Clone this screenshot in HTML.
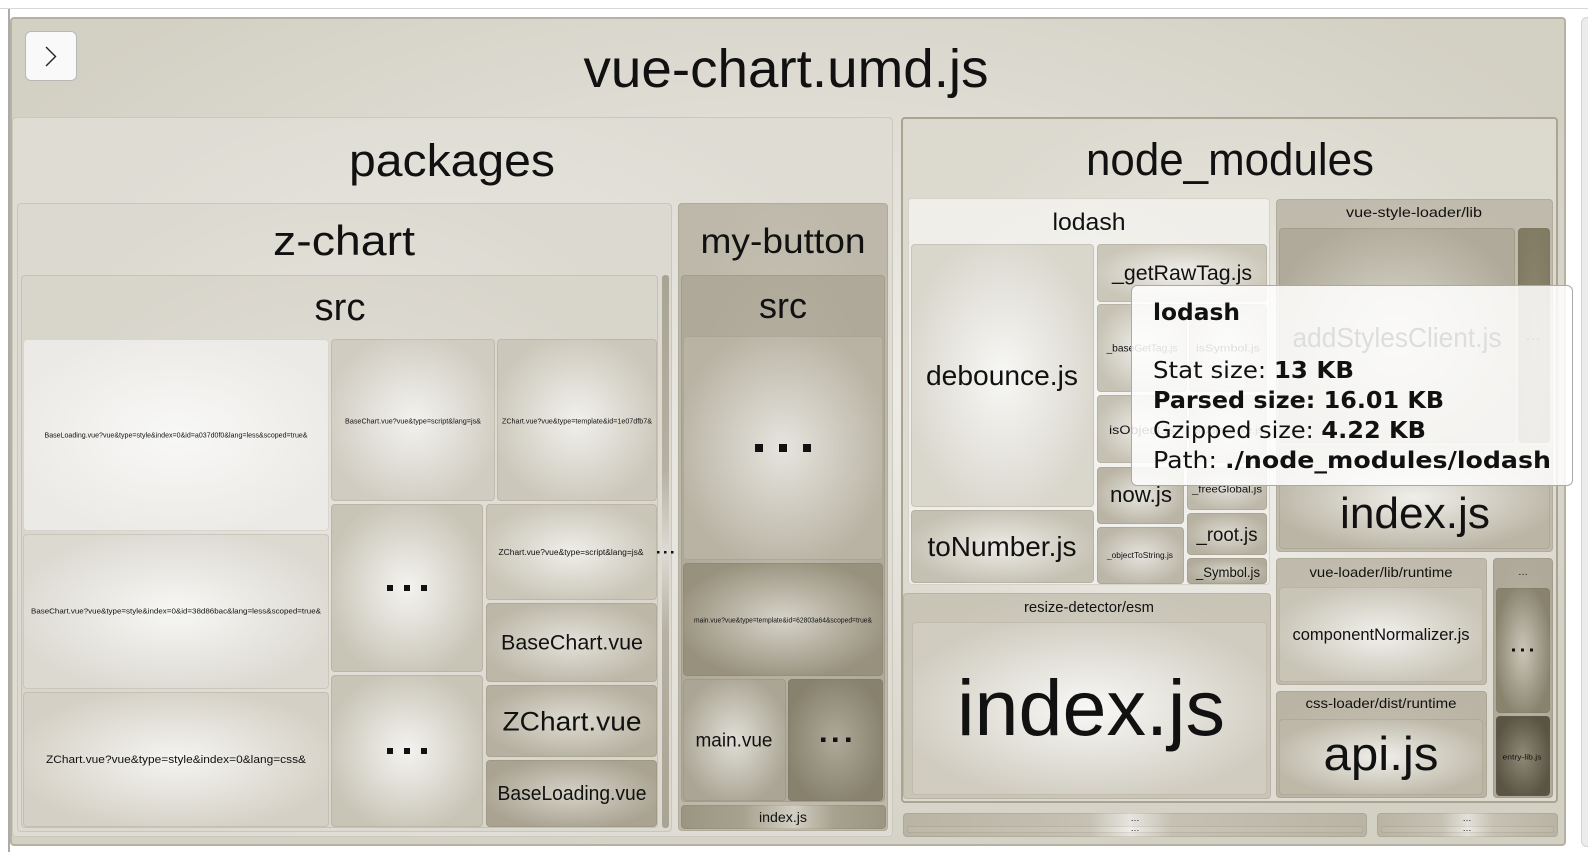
<!DOCTYPE html>
<html><head><meta charset="utf-8">
<style>
html,body{margin:0;padding:0;background:#fff;width:1588px;height:852px;overflow:hidden;position:relative}
.b{position:absolute;box-sizing:border-box;border-radius:4px;border:1px solid rgba(110,100,80,0.16)}
svg{position:absolute;left:0;top:0;overflow:visible}
.t text{font-family:"Liberation Sans",Arial,sans-serif;fill:#111}
.tt text{font-family:"DejaVu Sans","Liberation Sans",sans-serif;fill:#111}
</style></head><body>

<!-- page chrome -->
<div style="position:absolute;left:0;top:8px;width:1588px;height:1px;background:#d8d8d8"></div>
<div style="position:absolute;left:8px;top:9px;width:2px;height:843px;background:#ababab"></div>
<div style="position:absolute;left:1581px;top:17px;width:20px;height:830px;background:#ececec;border:1px solid #d2d2d2;border-radius:6px;box-sizing:border-box"></div>

<!-- root -->
<div class="b" style="left:10px;top:17px;width:1556px;height:829px;border:2px solid #b6b1a1;background:radial-gradient(ellipse 60% 60% at 50% 45%,#eeede8,#d3d0c4)"></div>

<!-- button -->
<div style="position:absolute;left:25px;top:31px;width:52px;height:50px;box-sizing:border-box;border:1.5px solid #b8b8b8;border-radius:6px;background:#f9f9f9"></div>

<!-- packages -->
<div class="b" style="left:12px;top:117px;width:881px;height:720px;background:radial-gradient(ellipse 55% 55% at 50% 50%,#eeede8,#dedcd3)"></div>
<div class="b" style="left:17px;top:203px;width:655px;height:629px;background:radial-gradient(ellipse 55% 55% at 50% 50%,#ebeae4,#dcd9d0)"></div>
<div class="b" style="left:21px;top:275px;width:637px;height:553px;background:radial-gradient(ellipse 55% 55% at 50% 50%,#e6e4de,#d8d5cb)"></div>
<div class="b" style="left:662px;top:275px;width:7px;height:553px;border:none;border-radius:3px;background:linear-gradient(to bottom,#a9a494 0%,#b5b0a1 35%,#dcdad3 50%,#b5b0a1 65%,#a9a494 100%)"></div>

<div class="b" style="left:23px;top:339px;width:306px;height:192px;background:radial-gradient(ellipse 55% 55% at 50% 50%,#f8f8f7,#eceae6)"></div>
<div class="b" style="left:23px;top:534px;width:306px;height:155px;background:radial-gradient(ellipse 55% 55% at 50% 50%,#f7f7f5,#dcd9d1)"></div>
<div class="b" style="left:23px;top:692px;width:306px;height:135px;background:radial-gradient(ellipse 55% 55% at 50% 50%,#f5f4f1,#d4d0c5)"></div>
<div class="b" style="left:331px;top:339px;width:164px;height:162px;background:radial-gradient(ellipse 55% 55% at 50% 50%,#f3f2ef,#d0ccc1)"></div>
<div class="b" style="left:497px;top:339px;width:160px;height:162px;background:radial-gradient(ellipse 55% 55% at 50% 50%,#f1f0ec,#cbc7ba)"></div>
<div class="b" style="left:331px;top:504px;width:152px;height:168px;background:radial-gradient(ellipse 55% 55% at 50% 50%,#f4f3f0,#c8c4b6)"></div>
<div class="b" style="left:331px;top:675px;width:152px;height:152px;background:radial-gradient(ellipse 55% 55% at 50% 50%,#f4f3f0,#c8c4b6)"></div>
<div class="b" style="left:486px;top:504px;width:171px;height:96px;background:radial-gradient(ellipse 55% 55% at 50% 50%,#efeee9,#c9c5b7)"></div>
<div class="b" style="left:486px;top:603px;width:171px;height:79px;background:radial-gradient(ellipse 55% 55% at 50% 50%,#e3e1da,#bcb7a7)"></div>
<div class="b" style="left:486px;top:685px;width:171px;height:72px;background:radial-gradient(ellipse 55% 55% at 50% 50%,#dedbd2,#b5b09f)"></div>
<div class="b" style="left:486px;top:760px;width:171px;height:67px;background:radial-gradient(ellipse 55% 55% at 50% 50%,#d5d2c7,#aaa392)"></div>

<!-- my-button -->
<div class="b" style="left:678px;top:203px;width:210px;height:628px;background:radial-gradient(ellipse 55% 55% at 50% 50%,#cdc9bc,#bdb8a9)"></div>
<div class="b" style="left:681px;top:275px;width:204px;height:527px;background:radial-gradient(ellipse 55% 55% at 50% 50%,#bab5a6,#aea999)"></div>
<div class="b" style="left:683px;top:336px;width:200px;height:224px;background:radial-gradient(ellipse 55% 55% at 50% 50%,#e6e4de,#b8b3a3)"></div>
<div class="b" style="left:683px;top:563px;width:200px;height:113px;background:radial-gradient(ellipse 55% 55% at 50% 50%,#d6d3c9,#98917d)"></div>
<div class="b" style="left:683px;top:679px;width:103px;height:122px;background:radial-gradient(ellipse 55% 55% at 50% 50%,#e0ded6,#aaa594)"></div>
<div class="b" style="left:788px;top:679px;width:95px;height:122px;background:radial-gradient(ellipse 55% 55% at 50% 50%,#aea999,#87816d)"></div>
<div class="b" style="left:681px;top:805px;width:205px;height:24px;background:linear-gradient(to right,#9b9581,#a7a28f 30%,#d2cec3 55%,#a7a28f 75%,#9b9581)"></div>

<!-- node_modules -->
<div class="b" style="left:901px;top:117px;width:657px;height:686px;border:2px solid #aaa493;background:radial-gradient(ellipse 55% 55% at 50% 50%,#efeee9,#dcd9cf)"></div>
<div class="b" style="left:908px;top:198px;width:362px;height:387px;border-color:#d6d3ca;background:radial-gradient(ellipse 55% 55% at 50% 50%,#f5f4f2,#efeee9)"></div>
<div class="b" style="left:911px;top:244px;width:183px;height:263px;background:radial-gradient(ellipse 55% 55% at 50% 50%,#f7f7f5,#d9d6cc)"></div>
<div class="b" style="left:911px;top:510px;width:183px;height:73px;background:radial-gradient(ellipse 55% 55% at 50% 50%,#edebe6,#c4c0b2)"></div>
<div class="b" style="left:1097px;top:244px;width:170px;height:58px;background:radial-gradient(ellipse 55% 55% at 50% 50%,#f1f0ec,#cac6b8)"></div>
<div class="b" style="left:1097px;top:304px;width:90px;height:88px;background:radial-gradient(ellipse 55% 55% at 50% 50%,#efeee9,#c6c2b4)"></div>
<div class="b" style="left:1189px;top:304px;width:78px;height:88px;background:radial-gradient(ellipse 55% 55% at 50% 50%,#eceae5,#c3bfb1)"></div>
<div class="b" style="left:1097px;top:395px;width:90px;height:68px;background:radial-gradient(ellipse 55% 55% at 50% 50%,#eceae5,#c4c0b2)"></div>
<div class="b" style="left:1189px;top:395px;width:78px;height:68px;background:radial-gradient(ellipse 55% 55% at 50% 50%,#e9e7e1,#c1bdaf)"></div>
<div class="b" style="left:1097px;top:467px;width:87px;height:57px;background:radial-gradient(ellipse 55% 55% at 50% 50%,#e7e5df,#b9b4a4)"></div>
<div class="b" style="left:1097px;top:527px;width:87px;height:57px;background:radial-gradient(ellipse 55% 55% at 50% 50%,#e5e3dd,#bbb6a7)"></div>
<div class="b" style="left:1187px;top:467px;width:80px;height:43px;background:radial-gradient(ellipse 55% 55% at 50% 50%,#e1dfd8,#bdb8a9)"></div>
<div class="b" style="left:1187px;top:513px;width:80px;height:42px;background:radial-gradient(ellipse 55% 55% at 50% 50%,#dddad1,#b6b1a1)"></div>
<div class="b" style="left:1187px;top:558px;width:80px;height:26px;background:radial-gradient(ellipse 55% 55% at 50% 50%,#d7d4ca,#b0ab9a)"></div>

<div class="b" style="left:1276px;top:199px;width:277px;height:353px;background:radial-gradient(ellipse 55% 55% at 50% 50%,#cdc9bc,#bfbaab)"></div>
<div class="b" style="left:1279px;top:228px;width:236px;height:215px;background:radial-gradient(ellipse 55% 55% at 50% 50%,#dbd8ce,#afaa99)"></div>
<div class="b" style="left:1518px;top:228px;width:32px;height:215px;background:radial-gradient(ellipse 55% 55% at 50% 50%,#8d8670,#827b64)"></div>
<div class="b" style="left:1279px;top:446px;width:271px;height:103px;background:radial-gradient(ellipse 55% 55% at 50% 50%,#efeee9,#bab5a5)"></div>

<div class="b" style="left:903px;top:593px;width:368px;height:206px;background:radial-gradient(ellipse 55% 55% at 50% 50%,#d3d0c5,#c8c4b6)"></div>
<div class="b" style="left:912px;top:622px;width:355px;height:173px;background:radial-gradient(ellipse 55% 55% at 50% 50%,#f8f8f6,#d0ccc0)"></div>

<div class="b" style="left:1276px;top:558px;width:211px;height:127px;background:radial-gradient(ellipse 55% 55% at 50% 50%,#c8c4b6,#bfbaab)"></div>
<div class="b" style="left:1279px;top:587px;width:204px;height:95px;background:radial-gradient(ellipse 55% 55% at 50% 50%,#f1f0ec,#c8c4b6)"></div>
<div class="b" style="left:1276px;top:691px;width:211px;height:107px;background:radial-gradient(ellipse 55% 55% at 50% 50%,#c3bfb0,#b9b4a4)"></div>
<div class="b" style="left:1279px;top:719px;width:204px;height:76px;background:radial-gradient(ellipse 55% 55% at 50% 50%,#efeee9,#bdb8a8)"></div>
<div class="b" style="left:1493px;top:558px;width:60px;height:240px;background:radial-gradient(ellipse 55% 55% at 50% 50%,#b8b3a3,#aea999)"></div>
<div class="b" style="left:1496px;top:588px;width:54px;height:125px;background:radial-gradient(ellipse 55% 55% at 50% 50%,#cac6b8,#89836e)"></div>
<div class="b" style="left:1496px;top:716px;width:54px;height:80px;background:radial-gradient(ellipse 55% 55% at 50% 50%,#8f8976,#595443)"></div>

<!-- bottom bars -->
<div class="b" style="left:903px;top:813px;width:464px;height:24px;background:linear-gradient(to right,#b9b4a4,#c5c1b3 40%,#e6e4de 49%,#c5c1b3 58%,#b9b4a4)"></div>
<div class="b" style="left:907px;top:826px;width:456px;height:7px;border-radius:2px;background:linear-gradient(to right,#bdb8a8,#c9c5b7 40%,#eeede8 49%,#c9c5b7 58%,#bdb8a8)"></div>
<div class="b" style="left:1377px;top:813px;width:181px;height:24px;background:linear-gradient(to right,#b9b4a4,#c5c1b3 35%,#e2e0d9 50%,#c5c1b3 65%,#b9b4a4)"></div>
<div class="b" style="left:1381px;top:826px;width:173px;height:7px;border-radius:2px;background:linear-gradient(to right,#bdb8a8,#c9c5b7 35%,#eae8e2 50%,#c9c5b7 65%,#bdb8a8)"></div>

<!-- labels -->
<svg class="t" width="1588" height="852" viewBox="0 0 1588 852">
<polyline points="46,47 55.5,56.5 46,66" fill="none" stroke="#222" stroke-width="1.4"/>
<g text-anchor="middle">
<text x="786" y="87" font-size="54" textLength="405" lengthAdjust="spacingAndGlyphs">vue-chart.umd.js</text>
<text x="452" y="176" font-size="45" textLength="206" lengthAdjust="spacingAndGlyphs">packages</text>
<text x="1230" y="175" font-size="45" textLength="288" lengthAdjust="spacingAndGlyphs">node_modules</text>
<text x="344" y="255" font-size="42" textLength="142" lengthAdjust="spacingAndGlyphs">z-chart</text>
<text x="783" y="253" font-size="35" textLength="165" lengthAdjust="spacingAndGlyphs">my-button</text>
<text x="340" y="320" font-size="38" textLength="51" lengthAdjust="spacingAndGlyphs">src</text>
<text x="783" y="318" font-size="36" textLength="48" lengthAdjust="spacingAndGlyphs">src</text>
<text x="176" y="437.5" font-size="7" textLength="263" lengthAdjust="spacingAndGlyphs">BaseLoading.vue?vue&amp;type=style&amp;index=0&amp;id=a037d0f0&amp;lang=less&amp;scoped=true&amp;</text>
<text x="176" y="613.5" font-size="7" textLength="290" lengthAdjust="spacingAndGlyphs">BaseChart.vue?vue&amp;type=style&amp;index=0&amp;id=38d86bac&amp;lang=less&amp;scoped=true&amp;</text>
<text x="176" y="763" font-size="11" textLength="260" lengthAdjust="spacingAndGlyphs">ZChart.vue?vue&amp;type=style&amp;index=0&amp;lang=css&amp;</text>
<text x="413" y="423.5" font-size="7" textLength="136" lengthAdjust="spacingAndGlyphs">BaseChart.vue?vue&amp;type=script&amp;lang=js&amp;</text>
<text x="577" y="423.5" font-size="7" textLength="150" lengthAdjust="spacingAndGlyphs">ZChart.vue?vue&amp;type=template&amp;id=1e07dfb7&amp;</text>
<text x="571" y="555" font-size="8" textLength="145" lengthAdjust="spacingAndGlyphs">ZChart.vue?vue&amp;type=script&amp;lang=js&amp;</text>
<text x="572" y="649.5" font-size="21" textLength="142" lengthAdjust="spacingAndGlyphs">BaseChart.vue</text>
<text x="572" y="730.5" font-size="27" textLength="139" lengthAdjust="spacingAndGlyphs">ZChart.vue</text>
<text x="572" y="800" font-size="20" textLength="149" lengthAdjust="spacingAndGlyphs">BaseLoading.vue</text>
<text x="783" y="622.5" font-size="7" textLength="178" lengthAdjust="spacingAndGlyphs">main.vue?vue&amp;type=template&amp;id=62803a64&amp;scoped=true&amp;</text>
<text x="734" y="746.5" font-size="19" textLength="77" lengthAdjust="spacingAndGlyphs">main.vue</text>
<text x="783" y="822" font-size="14" textLength="48" lengthAdjust="spacingAndGlyphs">index.js</text>
<text x="1089" y="230" font-size="24" textLength="73" lengthAdjust="spacingAndGlyphs">lodash</text>
<text x="1414" y="217" font-size="14" textLength="136" lengthAdjust="spacingAndGlyphs">vue-style-loader/lib</text>
<text x="1002" y="385" font-size="28" textLength="152" lengthAdjust="spacingAndGlyphs">debounce.js</text>
<text x="1002" y="556" font-size="28" textLength="149" lengthAdjust="spacingAndGlyphs">toNumber.js</text>
<text x="1182" y="280" font-size="21" textLength="140" lengthAdjust="spacingAndGlyphs">_getRawTag.js</text>
<text x="1142" y="351.5" font-size="10" textLength="71" lengthAdjust="spacingAndGlyphs">_baseGetTag.js</text>
<text x="1228" y="351.5" font-size="10" textLength="64" lengthAdjust="spacingAndGlyphs">isSymbol.js</text>
<text x="1142" y="434" font-size="12" textLength="66" lengthAdjust="spacingAndGlyphs">isObject.js</text>
<text x="1228" y="433.5" font-size="10" textLength="70" lengthAdjust="spacingAndGlyphs">isObjectLike.js</text>
<text x="1141" y="502" font-size="22" textLength="62" lengthAdjust="spacingAndGlyphs">now.js</text>
<text x="1227" y="492.5" font-size="10" textLength="70" lengthAdjust="spacingAndGlyphs">_freeGlobal.js</text>
<text x="1227" y="541" font-size="19" textLength="61" lengthAdjust="spacingAndGlyphs">_root.js</text>
<text x="1228" y="577" font-size="14" textLength="64" lengthAdjust="spacingAndGlyphs">_Symbol.js</text>
<text x="1140" y="558" font-size="8" textLength="66" lengthAdjust="spacingAndGlyphs">_objectToString.js</text>
<text x="1397" y="347" font-size="28" textLength="209" lengthAdjust="spacingAndGlyphs">addStylesClient.js</text>
<text x="1533" y="340" font-size="16">…</text>
<text x="1415" y="528" font-size="44" textLength="150" lengthAdjust="spacingAndGlyphs">index.js</text>
<text x="1089" y="612" font-size="15" textLength="130" lengthAdjust="spacingAndGlyphs">resize-detector/esm</text>
<text x="1091" y="735" font-size="79" textLength="268" lengthAdjust="spacingAndGlyphs">index.js</text>
<text x="1381" y="577" font-size="14" textLength="143" lengthAdjust="spacingAndGlyphs">vue-loader/lib/runtime</text>
<text x="1381" y="640" font-size="17" textLength="177" lengthAdjust="spacingAndGlyphs">componentNormalizer.js</text>
<text x="1381" y="708" font-size="14" textLength="151" lengthAdjust="spacingAndGlyphs">css-loader/dist/runtime</text>
<text x="1381" y="770" font-size="47" textLength="115" lengthAdjust="spacingAndGlyphs">api.js</text>
<text x="1523" y="575" font-size="10">…</text>
<text x="1522" y="759.5" font-size="7" textLength="39" lengthAdjust="spacingAndGlyphs">entry-lib.js</text>
<text x="1135" y="821" font-size="9">…</text>
<text x="1135" y="831" font-size="9">…</text>
<text x="1467" y="821" font-size="9">…</text>
<text x="1467" y="831" font-size="9">…</text>
</g>
<g fill="#111">
<rect x="387" y="585" width="6" height="6"/><rect x="404" y="585" width="6" height="6"/><rect x="421" y="585" width="6" height="6"/>
<rect x="387" y="748" width="6" height="6"/><rect x="404" y="748" width="6" height="6"/><rect x="421" y="748" width="6" height="6"/>
<rect x="755" y="444" width="8" height="8"/><rect x="779" y="444" width="8" height="8"/><rect x="803" y="444" width="8" height="8"/>
<rect x="821" y="737.5" width="4.5" height="4.5"/><rect x="833" y="737.5" width="4.5" height="4.5"/><rect x="846" y="737.5" width="4.5" height="4.5"/>
<rect x="657" y="551" width="2.5" height="2.5"/><rect x="664" y="551" width="2.5" height="2.5"/><rect x="671" y="551" width="2.5" height="2.5"/>
<rect x="1512" y="648.5" width="3" height="3"/><rect x="1521" y="648.5" width="3" height="3"/><rect x="1530" y="648.5" width="3" height="3"/>
</g>
</svg>

<!-- tooltip -->
<div style="position:absolute;left:1131px;top:285px;width:442px;height:201px;box-sizing:border-box;background:rgba(255,255,255,0.86);border:1px solid #a9a9a9;border-radius:6px"></div>
<svg class="tt" width="1588" height="852" viewBox="0 0 1588 852">
<text x="1153" y="320" font-size="23" font-weight="bold" textLength="87" lengthAdjust="spacingAndGlyphs">lodash</text>
<text x="1153" y="378" font-size="23" textLength="201" lengthAdjust="spacingAndGlyphs">Stat size: <tspan font-weight="bold">13 KB</tspan></text>
<text x="1153" y="408" font-size="23" font-weight="bold" textLength="291" lengthAdjust="spacingAndGlyphs">Parsed size: 16.01 KB</text>
<text x="1153" y="438" font-size="23" textLength="273" lengthAdjust="spacingAndGlyphs">Gzipped size: <tspan font-weight="bold">4.22 KB</tspan></text>
<text x="1153" y="468" font-size="23" textLength="398" lengthAdjust="spacingAndGlyphs">Path: <tspan font-weight="bold">./node_modules/lodash</tspan></text>
</svg>
</body></html>
